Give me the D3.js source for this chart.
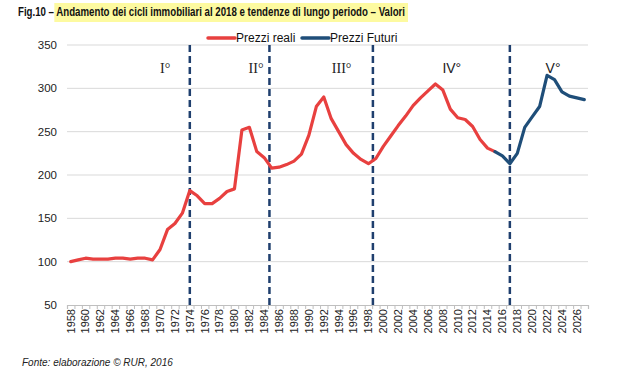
<!DOCTYPE html>
<html><head><meta charset="utf-8">
<script src="https://cdn.jsdelivr.net/npm/d3@7"></script>
<style>body{margin:0;background:#fff}svg{display:block}</style>
</head><body>
<svg id="c" width="622" height="377"></svg>
<script>
const years = d3.range(1958, 2028);
const realYearStart = 1958;
const realValues = [100,102,104,103,103,103,104,104,103,104,104,102,114,137,144,156,182,176,167,167,173,181,184,252,255,227,220,208,209,212,216,224,246,279,290,265,250,235,225,218,213,219,233,245,257,268,280,289,297,305,298,276,266,264,256,241,231,227];
const futureYearStart = 2015;
const futureValues = [227,222,213,225,255,267,279,315,310,296,291,289,287];
const yTicks = [50,100,150,200,250,300,350];
const xLabelYears = d3.range(1958, 2027, 2);
const cycleBounds = [1974, 1984.7, 1998.6, 2017];
const cycleLabels = ["I°","II°","III°","IV°","V°"];
const cycleLabelYears = [1970.7, 1982.9, 1994.4, 2009.2, 2022.8];
const cycleLabelSerif = [true, true, true, false, false];
const seriesNames = ["Prezzi reali","Prezzi Futuri"];
const seriesColors = ["#e8403f","#1f4e79"];
const titlePrefix = "Fig.10 – ";
const titleMain = "Andamento dei cicli immobiliari al 2018 e tendenze di lungo periodo – Valori";

const svg = d3.select("#c");
const x = d3.scaleLinear().domain([1957.5, 2027.5]).range([67, 588]);
const y = d3.scaleLinear().domain([50, 350]).range([305, 45]);

// title (single text, squeezed to the reference width)
const hl = svg.append("rect").attr("y",3).attr("height",19).attr("fill","#fdfaa0");
const title = svg.append("text").attr("x",18).attr("y",16).attr("font-family","Liberation Sans, Arial, sans-serif")
  .attr("font-weight","bold").attr("font-size",13).attr("fill","#111").text(titlePrefix + titleMain);
const natFull = title.node().getComputedTextLength();
const natPrefix = title.node().getSubStringLength(0, titlePrefix.length);
const titleW = 387;
title.attr("textLength",titleW).attr("lengthAdjust","spacingAndGlyphs");
const hlStart = 18 + natPrefix * titleW / natFull - 2;
hl.attr("x",hlStart).attr("width",18 + titleW + 3 - hlStart);

// gridlines
svg.append("g").selectAll("line").data(yTicks.filter(v=>v>50)).join("line")
  .attr("x1",67).attr("x2",588).attr("y1",d=>y(d)).attr("y2",d=>y(d))
  .attr("stroke","#d9d9d9").attr("stroke-width",1);

// y labels
svg.append("g").selectAll("text").data(yTicks).join("text")
  .attr("x",57).attr("y",d=>y(d)).attr("dy","0.35em").attr("text-anchor","end")
  .attr("font-family","Liberation Sans, Arial, sans-serif").attr("font-size",11.5).attr("fill","#222")
  .text(d=>d);

// x axis
const xAxis = d3.axisBottom(x).tickValues(d3.range(1957.5, 2028, 1)).tickSize(4).tickFormat("");
const gx = svg.append("g").attr("transform",`translate(0,${y(50)})`).call(xAxis);
gx.select(".domain").attr("stroke","#bfbfbf").attr("stroke-width",1.2);
gx.selectAll(".tick line").attr("stroke","#bfbfbf");
svg.append("g").selectAll("text").data(xLabelYears).join("text")
  .attr("transform",d=>`translate(${x(d)},309) rotate(-90)`)
  .attr("text-anchor","end").attr("dy","0.35em")
  .attr("font-family","Liberation Sans, Arial, sans-serif").attr("font-size",11).attr("fill","#222")
  .text(d=>d);

// cycle dashed lines
svg.append("g").selectAll("line").data(cycleBounds).join("line")
  .attr("x1",d=>x(d)).attr("x2",d=>x(d)).attr("y1",y(350)).attr("y2",y(50)+1)
  .attr("stroke","#1f3f6e").attr("stroke-width",2.5).attr("stroke-dasharray","7,4");

// cycle labels
svg.append("g").selectAll("text").data(cycleLabels).join("text")
  .attr("x",(d,i)=>x(cycleLabelYears[i])).attr("y",73).attr("text-anchor","middle")
  .attr("font-family",(d,i)=>cycleLabelSerif[i]?"Liberation Serif, Times New Roman, serif":"Liberation Sans, Arial, sans-serif")
  .attr("font-size",14).attr("fill","#222").text(d=>d);

// lines
const line = d3.line().x(d=>x(d[0])).y(d=>y(d[1]));
const realData = realValues.map((v,i)=>[realYearStart+i, v]);
const futureData = futureValues.map((v,i)=>[futureYearStart+i, v]);
svg.append("path").attr("d",line(realData)).attr("fill","none").attr("stroke",seriesColors[0])
  .attr("stroke-width",3.2).attr("stroke-linejoin","round").attr("stroke-linecap","round");
svg.append("path").attr("d",line(futureData)).attr("fill","none").attr("stroke",seriesColors[1])
  .attr("stroke-width",3.2).attr("stroke-linejoin","round").attr("stroke-linecap","round");

// legend
const legX = [208, 302];
const lg = svg.append("g");
seriesNames.forEach((n,i)=>{
  lg.append("line").attr("x1",legX[i]).attr("x2",legX[i]+27).attr("y1",38).attr("y2",38)
    .attr("stroke",seriesColors[i]).attr("stroke-width",3.5).attr("stroke-linecap","round");
  lg.append("text").attr("x",legX[i]+28).attr("y",42).attr("font-family","Liberation Sans, Arial, sans-serif")
    .attr("font-size",12).attr("fill","#111").text(n);
});

// source
svg.append("text").attr("x",22).attr("y",366).attr("font-family","Liberation Sans, Arial, sans-serif")
  .attr("font-style","italic").attr("font-size",10).attr("fill","#222").text("Fonte: elaborazione © RUR, 2016");
</script>
</body></html>
